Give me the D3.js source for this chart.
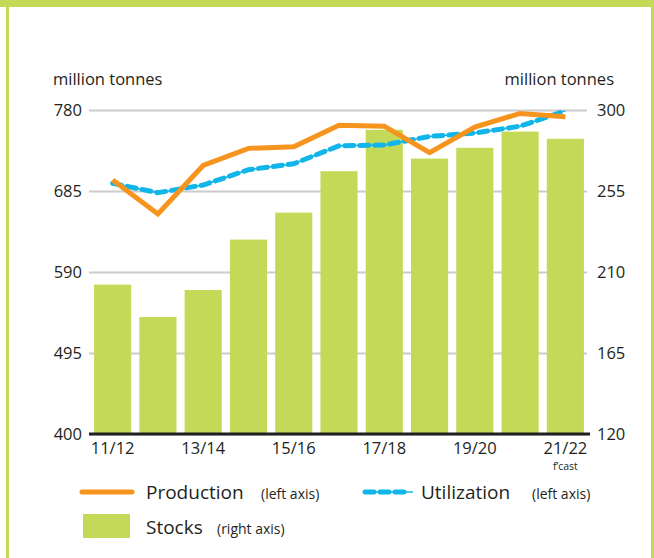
<!DOCTYPE html>
<html>
<head>
<meta charset="utf-8">
<script src="https://cdn.jsdelivr.net/npm/d3@7"></script>
<style>
  body { margin: 0; background: #fff; }
  svg text { font-family: "Open Sans", "Noto Sans", sans-serif; fill: #231f20; }
</style>
</head>
<body>
<div class="graph"></div>
<script>
var categories = ["11/12", "12/13", "13/14", "14/15", "15/16", "16/17", "17/18", "18/19", "19/20", "20/21", "21/22"];
var production = [698, 658, 715, 735, 737, 762, 761, 730, 760, 776, 772];
var utilization = [694, 683, 692, 710, 717, 738, 739, 749, 753, 761, 779];
var stocks = [203, 185, 200, 228, 243, 266, 289, 273, 279, 288, 284];
var leftTicks = [400, 495, 590, 685, 780];
var rightTicks = [120, 165, 210, 255, 300];

var width = 654;
var height = 558;
var green = "#c5d959";
var orange = "#f7941d";
var blue = "#12b5ea";

var svg = d3.select(".graph").append("svg")
  .attr("width", width)
  .attr("height", height);

// frame
svg.append("rect").attr("x", 0).attr("y", 0).attr("width", width).attr("height", 7).attr("fill", green);
svg.append("rect").attr("x", 6).attr("y", 0).attr("width", 3).attr("height", height).attr("fill", green);
svg.append("rect").attr("x", 651).attr("y", 0).attr("width", 3).attr("height", height).attr("fill", green);

var x = d3.scaleBand()
  .domain(categories)
  .range([90, 588])
  .paddingInner(0.18)
  .paddingOuter(0.09);

var yL = d3.scaleLinear().domain([400, 780]).range([434, 110]);
var yR = d3.scaleLinear().domain([120, 300]).range([434, 110]);

// gridlines
var grid = svg.append("g")
  .attr("transform", "translate(89,0)")
  .call(d3.axisRight(yL).tickValues(leftTicks).tickSize(498).tickFormat(""));
grid.select(".domain").remove();
grid.selectAll("line").attr("stroke", "#cccccc").attr("stroke-width", 2);

// left axis
var leftAxis = svg.append("g")
  .attr("transform", "translate(86,0)")
  .call(d3.axisLeft(yL).tickValues(leftTicks).tickSize(0).tickPadding(4));
leftAxis.select(".domain").remove();
leftAxis.selectAll("text").attr("font-size", 16.5).attr("font-family", null).attr("fill", "#231f20");

// right axis
var rightAxis = svg.append("g")
  .attr("transform", "translate(593,0)")
  .call(d3.axisRight(yR).tickValues(rightTicks).tickSize(0).tickPadding(4));
rightAxis.select(".domain").remove();
rightAxis.selectAll("text").attr("font-size", 16.5).attr("font-family", null).attr("fill", "#231f20");

// bars
svg.append("g").selectAll("rect")
  .data(stocks)
  .join("rect")
  .attr("x", (d, i) => x(categories[i]))
  .attr("width", x.bandwidth())
  .attr("y", d => yR(d))
  .attr("height", d => yR(120) - yR(d))
  .attr("fill", green);

// baseline
svg.append("line")
  .attr("x1", 89).attr("x2", 590)
  .attr("y1", yL(400)).attr("y2", yL(400))
  .attr("stroke", "#231f20").attr("stroke-width", 3);

// x axis
var xAxis = svg.append("g")
  .attr("transform", "translate(0," + yL(400) + ")")
  .call(d3.axisBottom(x).tickSize(0).tickPadding(8)
    .tickFormat((d, i) => i % 2 === 0 ? d : ""));
xAxis.select(".domain").remove();
xAxis.selectAll("text").attr("font-size", 16.5).attr("font-family", null).attr("fill", "#231f20");

svg.append("text")
  .attr("x", x("21/22") + x.bandwidth() / 2)
  .attr("y", 470)
  .attr("text-anchor", "middle")
  .attr("font-size", 10.5)
  .text("f\u2019cast");

// lines
var line = d3.line()
  .x((d, i) => x(categories[i]) + x.bandwidth() / 2)
  .y(d => yL(d));

svg.append("path")
  .datum(utilization)
  .attr("fill", "none")
  .attr("stroke", blue)
  .attr("stroke-width", 1.5)
  .attr("d", line);

svg.append("path")
  .datum(utilization)
  .attr("fill", "none")
  .attr("stroke", blue)
  .attr("stroke-width", 5)
  .attr("stroke-linecap", "round")
  .attr("stroke-dasharray", "9,6")
  .attr("d", line);

svg.append("path")
  .datum(production)
  .attr("fill", "none")
  .attr("stroke", orange)
  .attr("stroke-width", 5)
  .attr("d", line);

// axis titles
svg.append("text").attr("x", 53).attr("y", 85).attr("font-size", 16.5).text("million tonnes");
svg.append("text").attr("x", 614).attr("y", 85).attr("font-size", 16.5).attr("text-anchor", "end").text("million tonnes");

// legend
var legend = svg.append("g");
legend.append("line")
  .attr("x1", 82).attr("x2", 132).attr("y1", 492).attr("y2", 492)
  .attr("stroke", orange).attr("stroke-width", 5).attr("stroke-linecap", "round");
legend.append("text").attr("x", 146).attr("y", 499).attr("font-size", 19).text("Production");
legend.append("text").attr("x", 261).attr("y", 499).attr("font-size", 14).text("(left axis)");

legend.append("line")
  .attr("x1", 363).attr("x2", 413).attr("y1", 492).attr("y2", 492)
  .attr("stroke", blue).attr("stroke-width", 1.5);
legend.append("line")
  .attr("x1", 365).attr("x2", 405).attr("y1", 492).attr("y2", 492)
  .attr("stroke", blue).attr("stroke-width", 5).attr("stroke-linecap", "round")
  .attr("stroke-dasharray", "9,6");
legend.append("text").attr("x", 421).attr("y", 499).attr("font-size", 19).text("Utilization");
legend.append("text").attr("x", 532).attr("y", 499).attr("font-size", 14).text("(left axis)");

legend.append("rect")
  .attr("x", 83).attr("y", 514).attr("width", 47).attr("height", 24)
  .attr("fill", green);
legend.append("text").attr("x", 146).attr("y", 534).attr("font-size", 19).text("Stocks");
legend.append("text").attr("x", 217).attr("y", 534).attr("font-size", 14).text("(right axis)");
</script>
</body>
</html>
